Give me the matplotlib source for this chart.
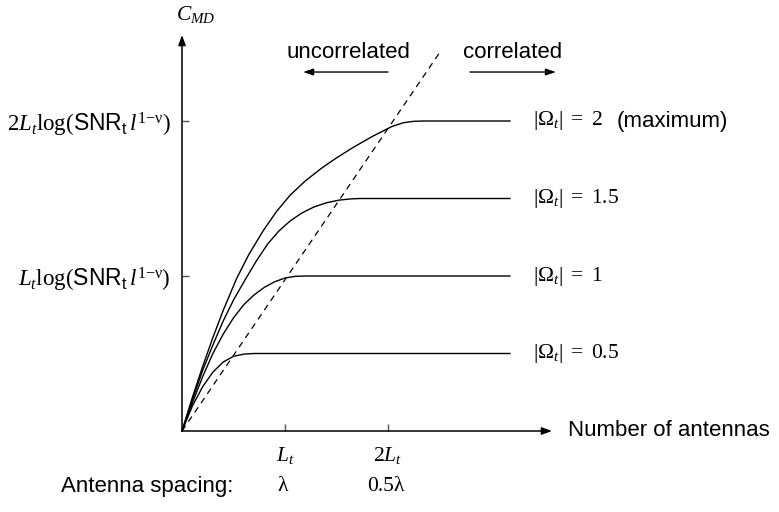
import matplotlib
matplotlib.use("Agg")
import matplotlib.pyplot as plt

plt.rcParams['font.family'] = ['Liberation Sans', 'DejaVu Sans']
plt.rcParams['mathtext.fontset'] = 'custom'
plt.rcParams['mathtext.rm'] = 'Liberation Serif'
plt.rcParams['mathtext.it'] = 'Liberation Serif:italic'
plt.rcParams['mathtext.bf'] = 'Liberation Serif:bold'
plt.rcParams['mathtext.sf'] = 'Liberation Sans'

# x in units of L_t, y in units of L_t log(SNR_t l^(1-v))
omega_levels = [2, 1.5, 1, 0.5]
omega_labels = [r'$|\Omega_t|\ =\ 2$', r'$|\Omega_t|\ =\ 1.5$',
                r'$|\Omega_t|\ =\ 1$', r'$|\Omega_t|\ =\ 0.5$']

x_omega2 = [0, 0.1, 0.2, 0.3, 0.4, 0.531, 0.65, 0.79, 0.92, 1.049, 1.2, 1.36,
            1.5, 1.663, 1.85, 2.036, 2.15, 2.25, 2.35, 3.184]
y_omega2 = [0, 0.215, 0.415, 0.603, 0.778, 0.985, 1.14, 1.294, 1.418, 1.521, 1.615, 1.698,
            1.762, 1.83, 1.901, 1.964, 1.989, 1.998, 2.0, 2.0]

x_omega15 = [0, 0.1, 0.2, 0.3, 0.4, 0.5, 0.612, 0.72, 0.83, 0.94, 1.05, 1.16,
             1.28, 1.4, 1.52, 1.63, 1.73, 3.184]
y_omega15 = [0, 0.2, 0.39, 0.555, 0.71, 0.845, 0.975, 1.095, 1.205, 1.29, 1.355, 1.405,
             1.445, 1.472, 1.489, 1.497, 1.5, 1.5]

x_omega1 = [0, 0.1, 0.2, 0.3, 0.4, 0.5, 0.6, 0.7, 0.8, 0.9, 1.0, 1.1, 1.2, 3.184]
y_omega1 = [0, 0.18, 0.35, 0.5, 0.625, 0.73, 0.815, 0.878, 0.927, 0.963, 0.987, 0.998,
            1.0, 1.0]

x_omega05 = [0, 0.1, 0.2, 0.3, 0.4, 0.5, 0.6, 0.7, 3.184]
y_omega05 = [0, 0.16, 0.285, 0.38, 0.445, 0.482, 0.496, 0.5, 0.5]

curves = [(x_omega2, y_omega2), (x_omega15, y_omega15),
          (x_omega1, y_omega1), (x_omega05, y_omega05)]

# boundary between uncorrelated / correlated
x_boundary = [0, 2.50]
y_boundary = [0, 2.44]

x_ticks = [1, 2]
x_tick_labels = [r'$L_t$', r'$2L_t$']
y_ticks = [1, 2]
y_tick_labels = [r'$L_t\mathrm{log}(\mathsf{SNR}_\mathsf{t}\,l^{1\mathrm{-\nu}})$',
                 r'$2L_t\mathrm{log}(\mathsf{SNR}_\mathsf{t}\,l^{1\mathrm{-\nu}})$']
spacing_labels = ['λ', '0.5λ']

W, H = 779, 512
PX = 103.0   # pixels per x unit
PY = 155.0   # pixels per y unit
ox, oy = 182, 431
ax_w, ax_h = 370, 396

fig = plt.figure(figsize=(W / 100, H / 100), dpi=100)
ax = fig.add_axes([ox / W, (H - oy) / H, ax_w / W, ax_h / H])
xmax, ymax = ax_w / PX, ax_h / PY
ax.set_xlim(0, xmax)
ax.set_ylim(0, ymax)
for s in ax.spines.values():
    s.set_visible(False)

# axes with arrows
head = '-|>,head_length=0.6,head_width=0.22'
ax.annotate('', xy=(xmax, 0), xytext=(0, 0),
            arrowprops=dict(arrowstyle=head, color='black', lw=1.1, shrinkA=0, shrinkB=0),
            annotation_clip=False)
ax.annotate('', xy=(0, ymax), xytext=(0, 0),
            arrowprops=dict(arrowstyle=head, color='black', lw=1.1, shrinkA=0, shrinkB=0),
            annotation_clip=False)

for xs, ys in curves:
    ax.plot(xs, ys, color='black', lw=1.0, clip_on=False, solid_joinstyle='round')

ax.plot(x_boundary, y_boundary, color='black', lw=0.9, ls=(0, (5, 4)), clip_on=False)

ax.set_xticks(x_ticks)
ax.set_xticklabels(x_tick_labels, fontsize=15.5)
ax.set_yticks(y_ticks)
ax.set_yticklabels(y_tick_labels, fontsize=16.5)
ax.tick_params(axis='x', direction='in', length=5, width=1, color='#555555', pad=10)
ax.tick_params(axis='y', direction='in', length=5, width=1, color='#555555', pad=8)

for lvl, lab in zip(omega_levels, omega_labels):
    ax.text(3.408, lvl, lab, fontsize=15.5, va='center', ha='left')
ax.text(4.22, omega_levels[0], '(maximum)', fontsize=16, va='center', ha='left')

ax.text(-0.06, 2.62, r'$C_{MD}$', fontsize=15.5, ha='left', va='bottom')
ax.text(3.748, 0, 'Number of antennas', fontsize=16, ha='left', va='center')

ax.text(0.495, -0.361, 'Antenna spacing:', fontsize=16, ha='right', va='center')
for xt, lab in zip(x_ticks, spacing_labels):
    ax.text(xt - 0.02, -0.361, lab, fontsize=15.5, ha='center', va='center',
            family='Liberation Serif')

# correlation region annotations
small = '-|>,head_length=0.6,head_width=0.2'
ax.text(1.618, 2.445, 'uncorrelated', fontsize=16, ha='center', va='center')
ax.annotate('', xy=(1.175, 2.316), xytext=(2.0, 2.316),
            arrowprops=dict(arrowstyle=small, color='black', lw=1.0, shrinkA=0, shrinkB=0),
            annotation_clip=False)
ax.text(3.214, 2.445, 'correlated', fontsize=16, ha='center', va='center')
ax.annotate('', xy=(3.631, 2.316), xytext=(2.796, 2.316),
            arrowprops=dict(arrowstyle=small, color='black', lw=1.0, shrinkA=0, shrinkB=0),
            annotation_clip=False)

fig.savefig('out.png', dpi=100)
